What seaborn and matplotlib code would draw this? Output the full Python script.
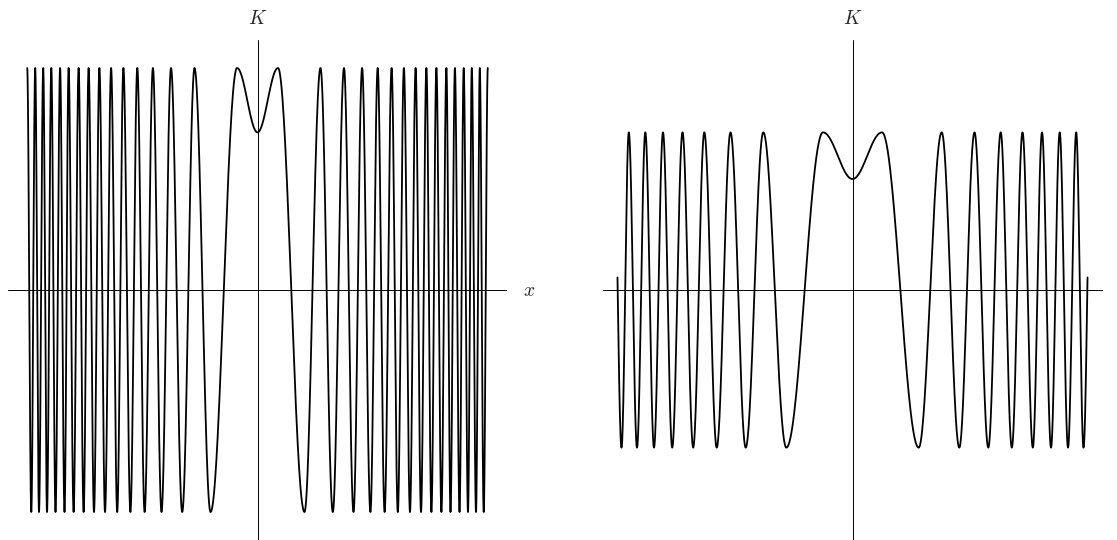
import numpy as np
import pandas as pd
import matplotlib
matplotlib.use("Agg")
import matplotlib.pyplot as plt
import seaborn as sns

# extrema of K (x >= 0, the curves are symmetric about x = 0)
left_x = [0.0, 0.891, 2.043, 2.739, 3.274, 3.761, 4.174, 4.548, 4.909, 5.226,
          5.526, 5.830, 6.100, 6.365, 6.630, 6.874, 7.109, 7.343, 7.561, 7.778,
          7.996, 8.213, 8.391, 8.583, 8.783, 8.965, 9.152, 9.317, 9.500, 9.665,
          9.835, 10.013]
left_k = [0.71, 1, -1, 1, -1, 1, -1, 1, -1, 1,
          -1, 1, -1, 1, -1, 1, -1, 1, -1, 1,
          -1, 1, -1, 1, -1, 1, -1, 1, -1, 1,
          -1, 1]

right_x = [0.0, 0.908, 2.037, 2.745, 3.286, 3.754, 4.178, 4.560, 4.902, 5.231,
           5.548, 5.831, 6.108, 6.375, 6.631, 6.883, 7.108, 7.343]
right_k = [0.5, 0.71, -0.71, 0.71, -0.71, 0.71, -0.71, 0.71, -0.71, 0.71,
           -0.71, 0.71, -0.71, 0.71, -0.71, 0.71, -0.71, 0.71]
right_end = 7.233

x_label = 'x'
y_label = 'K'


def curve(xs, ks, x_end=None, n=60):
    xs = np.array(xs)
    ks = np.array(ks, dtype=float)
    xs = np.concatenate([-xs[:0:-1], xs])
    ks = np.concatenate([ks[:0:-1], ks])
    px, py = [], []
    t = np.linspace(0, 1, n)
    for i in range(len(xs) - 1):
        px.append(xs[i] + (xs[i + 1] - xs[i]) * t)
        py.append((ks[i] + ks[i + 1]) / 2 + (ks[i] - ks[i + 1]) / 2 * np.cos(np.pi * t))
    df = pd.DataFrame({'x': np.concatenate(px), 'K': np.concatenate(py)})
    if x_end is not None:
        df = df[df['x'].abs() <= x_end]
    return df


sns.set_theme(style='white')
plt.rcParams['mathtext.fontset'] = 'cm'

fig = plt.figure(figsize=(11.17, 5.4), dpi=100)
ax1 = fig.add_axes([7.5 / 1117, 0, 500 / 1117, 500 / 540])
ax2 = fig.add_axes([602.5 / 1117, 0, 500 / 1117, 500 / 540])

panels = [(ax1, curve(left_x, left_k), 250 / 23),
          (ax2, curve(right_x, right_k, right_end), 250 / 32.5)]

for ax, df, half_w in panels:
    ax.axhline(0, color='black', lw=0.7)
    ax.axvline(0, color='black', lw=0.7)
    sns.lineplot(data=df, x='x', y='K', ax=ax, sort=False, estimator=None,
                 color='black', lw=1.3)
    ax.set_xlim(-half_w, half_w)
    ax.set_ylim(-250 / 222, 250 / 222)
    ax.set_axis_off()
    ax.text(1.043, 0.5, '$' + x_label + '$', transform=ax.transAxes,
            ha='center', va='center', fontsize=14, clip_on=False)
    ax.text(0.5, 1.044, '$' + y_label + '$', transform=ax.transAxes,
            ha='center', va='center', fontsize=14, clip_on=False)

fig.savefig('out.png', dpi=100)
